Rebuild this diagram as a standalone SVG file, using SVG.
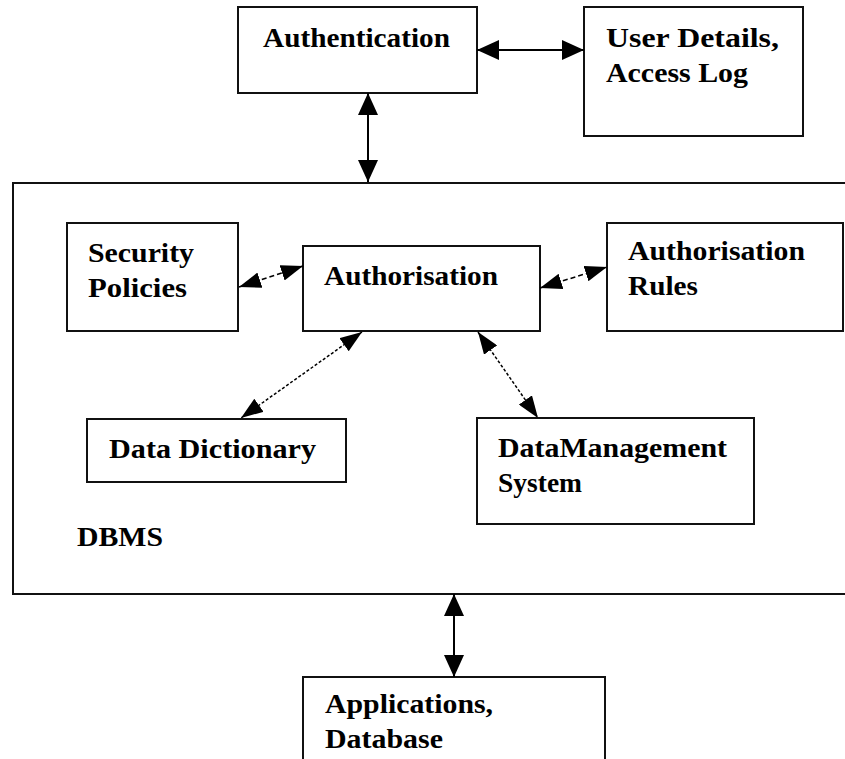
<svg xmlns="http://www.w3.org/2000/svg" width="845" height="759" viewBox="0 0 845 759">
  <style>
    .box { fill: #ffffff; stroke: #111111; stroke-width: 2; }
    .lbl { font-family: "Liberation Serif", "Times New Roman", serif; font-weight: bold; font-size: 27px; fill: #000000; }
    .link { stroke: #000000; stroke-width: 2; fill: none; }
    .dash { stroke: #000000; stroke-width: 1.5; fill: none; stroke-dasharray: 5 3; }
    .dot { stroke: #000000; stroke-width: 1.5; fill: none; stroke-dasharray: 3 2; }
  </style>
  <defs>
    <marker id="bigHead" viewBox="0 0 22 20" markerUnits="userSpaceOnUse" markerWidth="22" markerHeight="20" refX="22" refY="10" orient="auto-start-reverse">
      <path d="M0,0 L22,10 L0,20 z" fill="#000000"/>
    </marker>
    <marker id="smallHead" viewBox="0 0 22 16" markerUnits="userSpaceOnUse" markerWidth="22" markerHeight="16" refX="22" refY="8" orient="auto-start-reverse">
      <path d="M0,0 L22,8 L0,16 z" fill="#000000"/>
    </marker>
  </defs>

  <rect width="845" height="759" fill="#ffffff"/>

  <!-- DBMS container -->
  <g id="dbms">
    <rect class="box" x="13" y="183" width="850" height="411"/>
    <text class="lbl" x="77" y="546" textLength="86" lengthAdjust="spacingAndGlyphs">DBMS</text>
  </g>

  <g id="authentication">
    <rect class="box" x="238" y="7" width="239" height="86"/>
    <text class="lbl" x="263" y="47" textLength="187" lengthAdjust="spacingAndGlyphs">Authentication</text>
  </g>

  <g id="user-details">
    <rect class="box" x="584" y="7" width="219" height="129"/>
    <text class="lbl" x="606" y="47" textLength="173" lengthAdjust="spacingAndGlyphs">User Details,</text>
    <text class="lbl" x="606" y="82" textLength="142" lengthAdjust="spacingAndGlyphs">Access Log</text>
  </g>

  <g id="security-policies">
    <rect class="box" x="67" y="223" width="171" height="108"/>
    <text class="lbl" x="88" y="262" textLength="106" lengthAdjust="spacingAndGlyphs">Security</text>
    <text class="lbl" x="88" y="297" textLength="99" lengthAdjust="spacingAndGlyphs">Policies</text>
  </g>

  <g id="authorisation">
    <rect class="box" x="303" y="246" width="237" height="85"/>
    <text class="lbl" x="324" y="285" textLength="174" lengthAdjust="spacingAndGlyphs">Authorisation</text>
  </g>

  <g id="authorisation-rules">
    <rect class="box" x="607" y="223" width="236" height="108"/>
    <text class="lbl" x="628" y="260" textLength="177" lengthAdjust="spacingAndGlyphs">Authorisation</text>
    <text class="lbl" x="628" y="295" textLength="70" lengthAdjust="spacingAndGlyphs">Rules</text>
  </g>

  <g id="data-dictionary">
    <rect class="box" x="87" y="419" width="259" height="63"/>
    <text class="lbl" x="109" y="458" textLength="207" lengthAdjust="spacingAndGlyphs">Data Dictionary</text>
  </g>

  <g id="data-management">
    <rect class="box" x="477" y="418" width="277" height="106"/>
    <text class="lbl" x="498" y="457" textLength="229" lengthAdjust="spacingAndGlyphs">DataManagement</text>
    <text class="lbl" x="498" y="492" textLength="84" lengthAdjust="spacingAndGlyphs">System</text>
  </g>

  <g id="applications">
    <rect class="box" x="303" y="677" width="302" height="100"/>
    <text class="lbl" x="325" y="713" textLength="168" lengthAdjust="spacingAndGlyphs">Applications,</text>
    <text class="lbl" x="325" y="748" textLength="118" lengthAdjust="spacingAndGlyphs">Database</text>
  </g>

  <!-- connectors -->
  <g id="connectors">
    <line class="link" x1="477" y1="50" x2="584" y2="50" marker-start="url(#bigHead)" marker-end="url(#bigHead)"/>
    <line class="link" x1="368" y1="93" x2="368" y2="182" marker-start="url(#bigHead)" marker-end="url(#bigHead)"/>
    <line class="link" x1="454" y1="594" x2="454" y2="677" marker-start="url(#bigHead)" marker-end="url(#bigHead)"/>
    <line class="dash" x1="239" y1="287" x2="303" y2="266" marker-start="url(#smallHead)" marker-end="url(#smallHead)"/>
    <line class="dash" x1="540" y1="288" x2="607" y2="267" marker-start="url(#smallHead)" marker-end="url(#smallHead)"/>
    <line class="dot" x1="362" y1="332" x2="241" y2="418" marker-start="url(#smallHead)" marker-end="url(#smallHead)"/>
    <line class="dot" x1="478" y1="332" x2="538" y2="418" marker-start="url(#smallHead)" marker-end="url(#smallHead)"/>
  </g>
</svg>
